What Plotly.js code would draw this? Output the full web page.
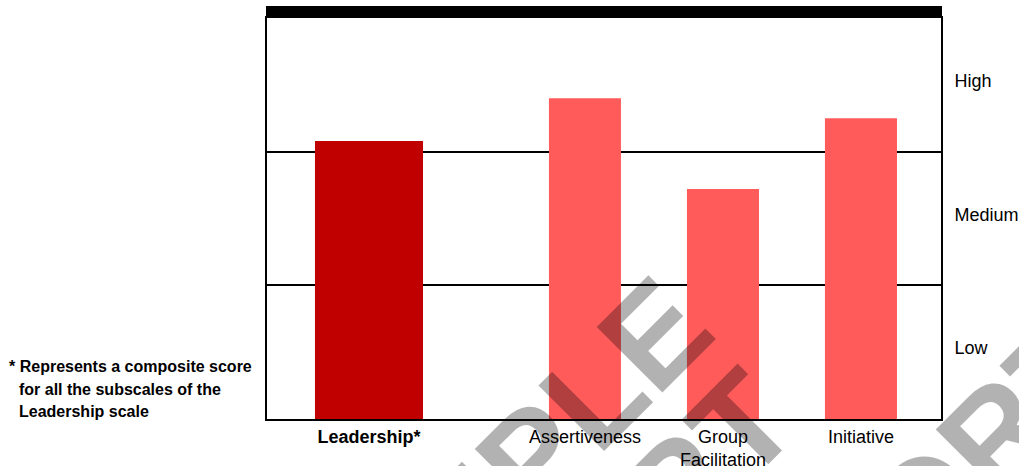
<!DOCTYPE html>
<html><head><meta charset="utf-8">
<script src="https://cdn.plot.ly/plotly-3.0.1.min.js"></script>
<style>html,body{margin:0;padding:0;background:#fff;}#chart{width:1019px;height:466px;}</style>
</head><body><div id="chart"></div>
<script>
// ---- data ----
const categories = ["Leadership*", "Assertiveness", "Group Facilitation", "Initiative"];
const tickLabels = ["<b>Leadership*</b>", "Assertiveness", "Group<br>Facilitation", "Initiative"];
const scores = [2.08, 2.40, 1.72, 2.25];
const levelLabels = ["Low", "Medium", "High"];
const levelValues = [0.5, 1.5, 2.5];
const footnoteLines = ["* Represents a composite score", "for all the subscales of the", "Leadership scale"];
const watermarkWords = ["SAMPLE", "REPORT", "REPORT"];

// ---- layout / style ----
const slotPos = [0.435, 2, 3, 4];
const barWidths = [0.783, 0.522, 0.522, 0.522];
const barColors = ["#C00000", "#FF5B5B", "#FF5B5B", "#FF5B5B"];
const labelLift = 0.03;
const FONT = "Liberation Sans, Arial, Helvetica, sans-serif";

const trace = {
  type: "bar",
  x: slotPos,
  y: scores,
  width: barWidths,
  text: categories,
  textposition: "none",
  hoverinfo: "text+y",
  marker: {color: barColors, line: {width: 0}}
};

// pixel -> paper helpers (plot area: x 267..941, y 18..419)
const px = v => (v - 267) / 674;
const py = v => (419 - v) / 401;

const footPos = [[7, 366], [17, 389], [17, 411]];
const annotations = footnoteLines.map((t, i) => ({
  xref: "paper", yref: "paper", x: px(footPos[i][0]), y: py(footPos[i][1]),
  xanchor: "left", yanchor: "middle", showarrow: false,
  text: "<b>" + t + "</b>",
  font: {family: FONT, size: 16, color: "#000"}
}));
const wmPos = [[488, 502], [572, 594], [890, 540]];
watermarkWords.forEach((w, i) => annotations.push({
  xref: "paper", yref: "paper", x: px(wmPos[i][0]), y: py(wmPos[i][1]),
  xanchor: "center", yanchor: "middle", showarrow: false,
  text: "<b>" + w + "</b>", textangle: -45,
  font: {family: FONT, size: 135, color: "rgba(0,0,0,0.3)"}
}));

const layout = {
  width: 1019, height: 466,
  margin: {l: 267, r: 78, t: 18, b: 47, pad: 0},
  paper_bgcolor: "#fff", plot_bgcolor: "#fff",
  showlegend: false,
  font: {family: FONT, size: 18, color: "#000"},
  xaxis: {
    range: [-0.304, 4.580], tickmode: "array", tickvals: slotPos, ticktext: tickLabels,
    showline: true, mirror: true, linecolor: "#000", linewidth: 2,
    showgrid: false, zeroline: false, ticks: "", fixedrange: true,
    tickfont: {family: FONT, size: 18, color: "#000"}
  },
  yaxis: {
    range: [0, 3], side: "right", tickmode: "array",
    tickvals: levelValues.map(v => v + labelLift), ticktext: levelLabels,
    showline: true, mirror: true, linecolor: "#000", linewidth: 2,
    showgrid: false, zeroline: false, ticks: "", ticklabelstandoff: 8, fixedrange: true,
    minor: {tickmode: "linear", tick0: 0, dtick: 1, showgrid: true, gridcolor: "#000", gridwidth: 2, ticks: ""},
    tickfont: {family: FONT, size: 18, color: "#000"}
  },
  shapes: [{
    type: "rect", xref: "paper", yref: "paper",
    x0: -1/674, x1: 1 + 1/674, y0: 1, y1: 1 + 12/401,
    fillcolor: "#000", line: {width: 0}, layer: "above"
  }],
  annotations: annotations
};

Plotly.newPlot("chart", [trace], layout, {displayModeBar: false, staticPlot: true});
</script>
</body></html>
